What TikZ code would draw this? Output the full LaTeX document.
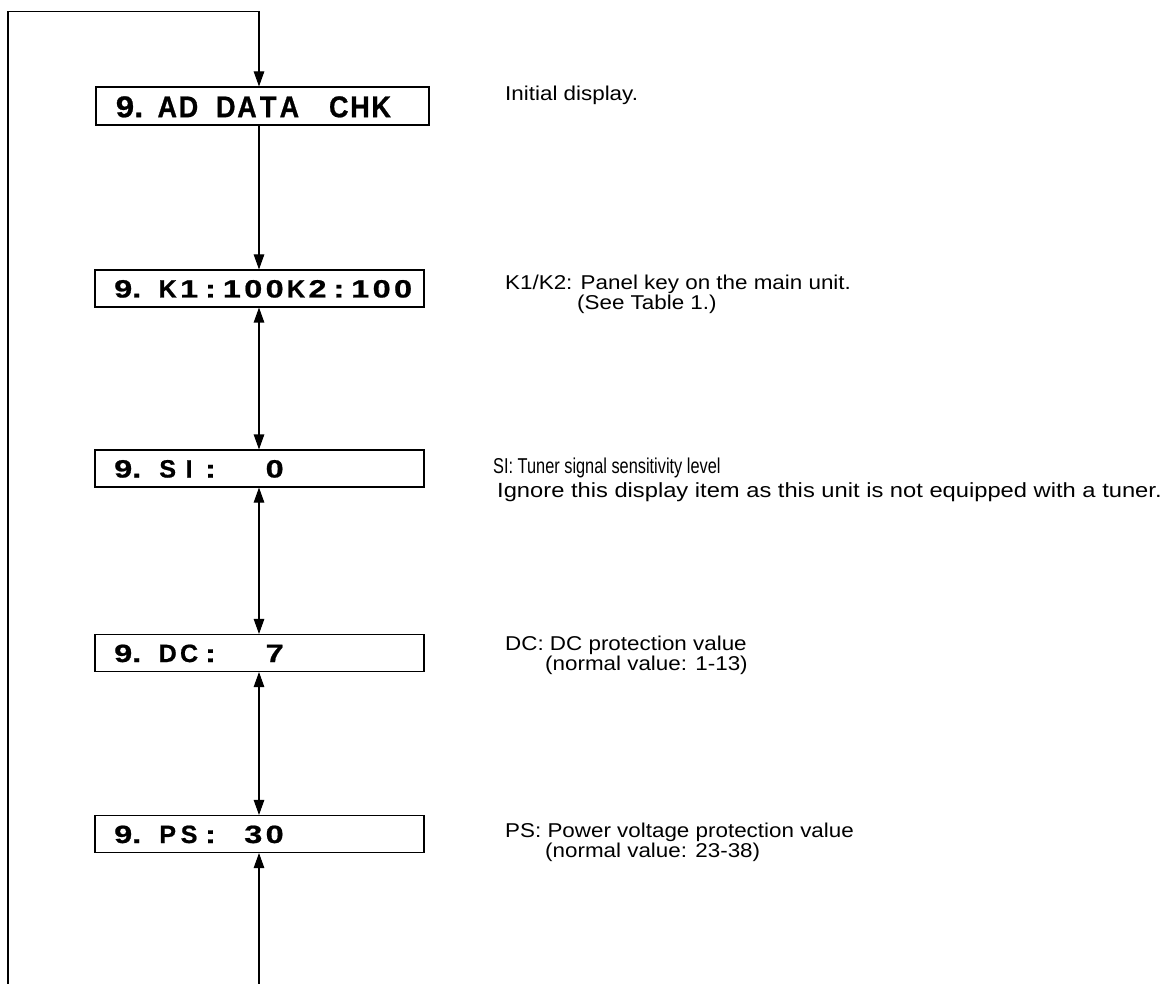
\documentclass[tikz,border=0pt]{standalone}
\usepackage{fontspec}
\setmainfont{Liberation Sans}
\newfontfamily\boxlet{Liberation Sans}[FakeStretch=1.0,FakeBold=0.8]
\newfontfamily\boxdig{Liberation Sans}[FakeStretch=1.3,FakeBold=0.8]
\newfontfamily\toplet{Liberation Sans}[FakeStretch=0.9,FakeBold=0.8]
\newfontfamily\topdig{Liberation Sans}[FakeStretch=1.1,FakeBold=0.8]
\newfontfamily\lblfont{Liberation Sans}[FakeStretch=1.12]
\newfontfamily\lblwide{Liberation Sans}[FakeStretch=1.157]
\newfontfamily\lblnarrow{Liberation Sans}[FakeStretch=0.76]
\usetikzlibrary{arrows.meta,calc}
% cells for boxes 2-5
\newcommand\lc[1]{\makebox[21.4pt]{\boxlet\bfseries\fontsize{25}{27}\selectfont #1}}
\newcommand\dc[1]{\makebox[21.4pt]{\boxdig\bfseries\fontsize{25}{27}\selectfont #1}}
\newcommand\nine{\makebox[42.8pt][l]{\boxdig\bfseries\fontsize{25}{27}\selectfont 9.}}
% cells for box 1
\newcommand\tc[1]{\makebox[21.2pt]{\toplet\bfseries\fontsize{30}{32}\selectfont #1}}
\tikzset{
  lcdbox/.style={draw, line width=1.1pt, minimum width=329pt, minimum height=37pt, inner sep=0pt},
  lcdtxt/.style={anchor=base west, inner sep=0pt},
  lbl/.style={anchor=base west, inner sep=0pt, font=\lblfont\fontsize{20}{22}\selectfont},
  conn/.style={line width=1.1pt},
  arr/.style={conn, -{Triangle[length=15pt,width=10.5pt]}},
  darr/.style={conn, {Triangle[length=15pt,width=10.5pt]}-{Triangle[length=15pt,width=10.5pt]}}
}
\begin{document}
\begin{tikzpicture}[x=1pt,y=-1pt]
\useasboundingbox (0,0) rectangle (1173,984);
% boxes
\node[lcdbox, minimum width=333pt, minimum height=38pt] (b1) at (262.5,106) {};
\node[lcdbox] (b2) at (259.5,288.5) {};
\node[lcdbox] (b3) at (259.5,468.5) {};
\node[lcdbox] (b4) at (259.5,653) {};
\node[lcdbox] (b5) at (259.5,834) {};
% box texts
\node[lcdtxt] (t1) at (115.6,117.2)
  {\makebox[40.9pt][l]{\topdig\bfseries\fontsize{30}{32}\selectfont 9.}\tc{A}\tc{D}\hspace{16.1pt}\tc{D}\tc{A}\tc{T}\tc{A}\hspace{28.2pt}\tc{C}\tc{H}\tc{K}};
\node[lcdtxt] (t2) at (114,297.5) {\nine\lc{K}\dc{1}\dc{:}\dc{1}\dc{0}\dc{0}\lc{K}\dc{2}\dc{:}\dc{1}\dc{0}\dc{0}};
\node[lcdtxt] (t3) at (114,477.5) {\nine\lc{S}\lc{I}\dc{:}\dc{}\dc{}\dc{0}};
\node[lcdtxt] (t4) at (114,662) {\nine\lc{D}\lc{C}\dc{:}\dc{}\dc{}\dc{7}};
\node[lcdtxt] (t5) at (114,843) {\nine\lc{P}\lc{S}\dc{:}\dc{}\dc{3}\dc{0}};
% connectors
\coordinate (ax) at (259,0);
\coordinate (loopbl) at (8,984);
\coordinate (looptl) at (8,11.7);
\coordinate (botin) at (259,984);
\draw[arr] (loopbl) -- (looptl) -| (b1.north -| ax);
\draw[arr] (b1.south -| ax) -- (b2.north -| ax);
\draw[darr] (b2.south -| ax) -- (b3.north -| ax);
\draw[darr] (b3.south -| ax) -- (b4.north -| ax);
\draw[darr] (b4.south -| ax) -- (b5.north -| ax);
\draw[arr] (botin) -- (b5.south -| ax);
% labels
\node[lbl] (l1) at (505,101) {Initial display.};
\node[lbl] (l2a) at (505,290) {K1/K2: Panel key on the main unit.};
\node[lbl] (l2b) at (577,310) {(See Table 1.)};
\node[lbl, font=\lblnarrow\fontsize{21.5}{23}\selectfont] (l3a) at (493,473.5) {SI: Tuner signal sensitivity level};
\node[lbl, font=\lblwide\fontsize{20.5}{22}\selectfont] (l3b) at (497,497.5) {Ignore this display item as this unit is not equipped with a tuner.};
\node[lbl] (l4a) at (505,650) {DC: DC protection value};
\node[lbl] (l4b) at (545,670) {(normal value: 1-13)};
\node[lbl] (l5a) at (505,837) {PS: Power voltage protection value};
\node[lbl] (l5b) at (545,857) {(normal value: 23-38)};
\end{tikzpicture}
\end{document}
